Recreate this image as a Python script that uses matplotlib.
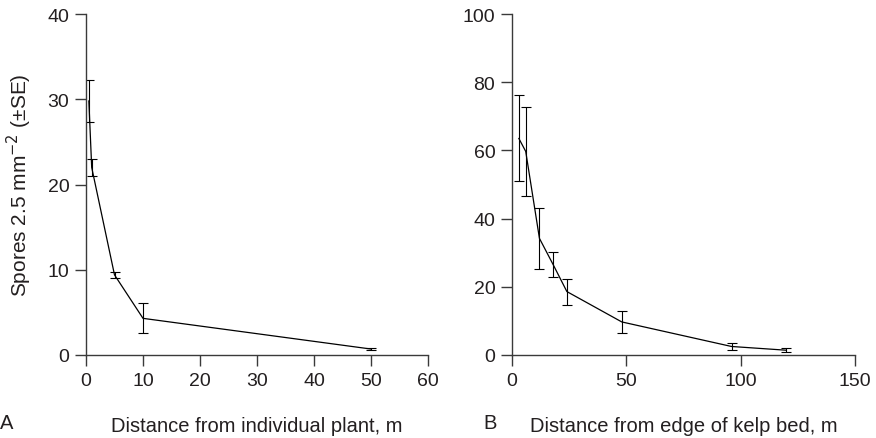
import matplotlib
matplotlib.use("Agg")
import matplotlib.pyplot as plt

plt.rcParams['font.family'] = ['Liberation Sans', 'DejaVu Sans']

# panel A: distance from individual plant
dist_a = [0.5, 1, 5, 10, 50]
spores_a = [29.8, 22.0, 9.4, 4.3, 0.7]
se_a = [2.5, 0.95, 0.35, 1.75, 0.15]

# panel B: distance from edge of kelp bed
dist_b = [3, 6, 12, 18, 24, 48, 96, 120]
spores_b = [63.5, 59.7, 34.2, 26.5, 18.6, 9.7, 2.5, 1.4]
se_b = [12.6, 13.1, 9.0, 3.7, 3.8, 3.3, 1.0, 0.55]

ink = "#231f20"
W, H = 876, 439

fig = plt.figure(figsize=(W / 100, H / 100), dpi=100)
ax_a = fig.add_axes([86 / W, (H - 356) / H, 342 / W, 341 / H])
ax_b = fig.add_axes([512 / W, (H - 356) / H, 343 / W, 341 / H])


def style(ax):
    for s in ["top", "right"]:
        ax.spines[s].set_visible(False)
    for s in ["left", "bottom"]:
        ax.spines[s].set_color("#3a3a3a")
        ax.spines[s].set_linewidth(1.0)
    ax.tick_params(direction="out", length=8, width=1.0, color="#3a3a3a",
                   labelsize=14, labelcolor=ink, pad=4)


ax_a.errorbar(dist_a, spores_a, yerr=se_a, color="black", lw=0.9,
              elinewidth=0.8, capsize=3.5, capthick=0.8)
ax_a.set_xlim(0, 60)
ax_a.set_ylim(0, 40)
ax_a.set_xticks(range(0, 61, 10))
ax_a.set_yticks(range(0, 41, 10))
style(ax_a)
ax_a.set_xlabel("Distance from individual plant, m", fontsize=14.5,
                color=ink, labelpad=20)
ax_a.set_ylabel("Spores 2.5 mm$^{-2}$ (\u00b1SE)", fontsize=15,
                color=ink, labelpad=10)

ax_b.errorbar(dist_b, spores_b, yerr=se_b, color="black", lw=0.9,
              elinewidth=0.8, capsize=3.5, capthick=0.8)
ax_b.set_xlim(0, 150)
ax_b.set_ylim(0, 100)
ax_b.set_xticks(range(0, 151, 50))
ax_b.set_yticks(range(0, 101, 20))
style(ax_b)
ax_b.set_xlabel("Distance from edge of kelp bed, m", fontsize=14.5,
                color=ink, labelpad=20)

fig.text(0 / W, 1 - 424 / H, "A", fontsize=14.5, color=ink, va="center")
fig.text(483 / W, 1 - 424 / H, "B", fontsize=14.5, color=ink, va="center")

fig.savefig("out.png", dpi=100)
